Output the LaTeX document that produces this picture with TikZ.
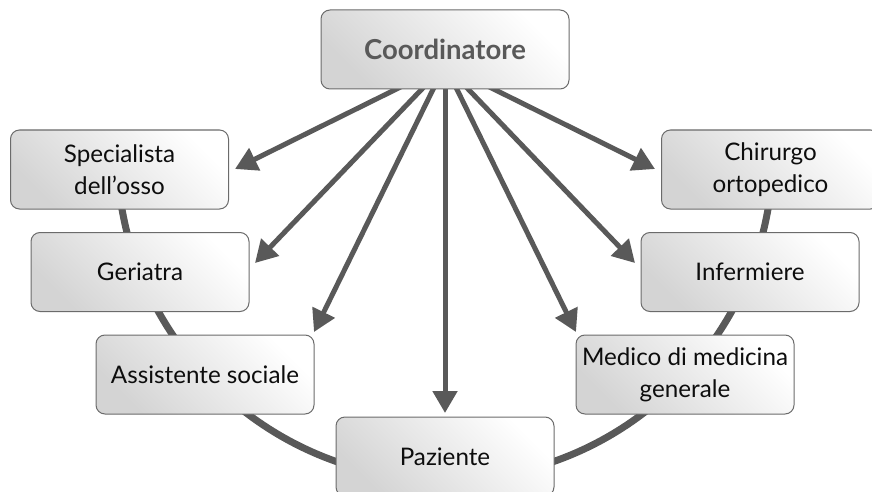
\documentclass[tikz,border=0pt]{standalone}
\usepackage{fontspec}
\setmainfont{Lato}
\usetikzlibrary{arrows.meta,calc}
\definecolor{dgray}{HTML}{595959}
\definecolor{bordergray}{HTML}{6B6B6B}
\definecolor{txt}{HTML}{0D0D0D}
\tikzset{
  boxnode/.style={draw=bordergray, line width=1pt, rounded corners=9pt,
    minimum width=218pt, minimum height=79pt, inner sep=0pt,
    top color=white, bottom color=black!17, shading angle=-45,
    align=center, font=\fontsize{24.2}{32}\selectfont, text=txt},
  titlenode/.style={boxnode, minimum width=248pt, font=\fontsize{27.5}{32}\selectfont\bfseries, text=dgray},
  arr/.style={draw=dgray, line width=5pt, -{Triangle[length=22pt,width=24pt]}},
  ring/.style={draw=dgray, line width=7pt}
}
\begin{document}
\begin{tikzpicture}[x=1pt,y=-1pt]
\useasboundingbox (0,0) rectangle (872,492);
% ring behind boxes
\coordinate (ctr) at (445,152);
\coordinate (src) at (445,65);
\draw[ring] ($(ctr)+(176.9:328)$) arc[start angle=176.9, end angle=3.1, radius=328];
% arrow tips
\coordinate (tspec) at (235,169);
\coordinate (tger) at (255,263);
\coordinate (tass) at (314,332);
\coordinate (tpaz) at (445,413);
\coordinate (tmed) at (576,332);
\coordinate (tinf) at (635,263);
\coordinate (tchir) at (655,169);
\foreach \t in {tspec,tger,tass,tpaz,tmed,tinf,tchir}
  \draw[arr] (src) -- (\t);
% boxes
\node[titlenode] (coord) at (445,49.5) {Coordinatore};
\node[boxnode] (spec) at (119.5,169.5) {Specialista\\dell’osso};
\node[boxnode] (ger) at (140,272) {Geriatra};
\node[boxnode] (ass) at (205,374.5) {Assistente sociale};
\node[boxnode] (paz) at (445,456.5) {Paziente};
\node[boxnode] (med) at (685,374.5) {Medico di medicina\\generale};
\node[boxnode] (inf) at (750,272) {Infermiere};
\node[boxnode] (chir) at (770.5,169.5) {Chirurgo\\ortopedico};
\end{tikzpicture}
\end{document}
